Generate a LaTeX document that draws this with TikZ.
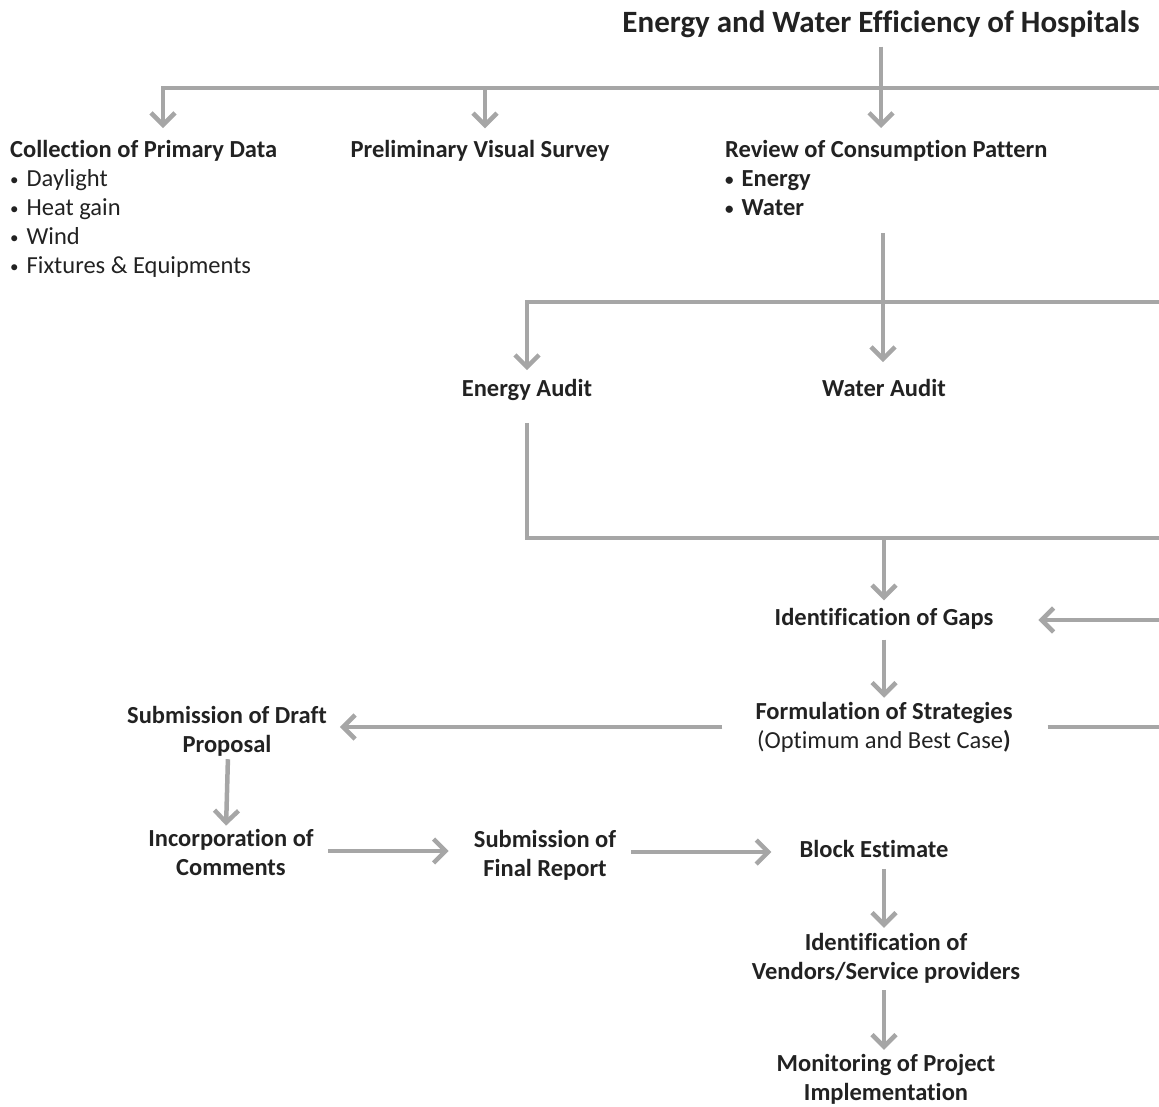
\documentclass[tikz,border=0pt]{standalone}
\usepackage{fontspec}
\setmainfont{Carlito}[Ligatures=NoCommon]
\usetikzlibrary{arrows.meta}
\definecolor{ln}{HTML}{A6A6A6}
\definecolor{tx}{HTML}{222222}
\newcommand{\mybul}{\raisebox{1.2pt}{\fontsize{17}{17}\selectfont•}\hspace{8pt}}
\begin{document}
\begin{tikzpicture}[x=1pt,y=-1pt,
  every node/.style={inner sep=0pt, text=tx, font=\fontsize{24.5}{29}\selectfont},
  lbl/.style={font=\fontsize{24.5}{29}\selectfont\bfseries, align=center},
  conn/.style={draw=ln, line width=4.5pt},
  arr/.style={conn, -{Straight Barb[length=12pt,width=24pt,line width=4.5pt]}}
]
\useasboundingbox (0,0) rectangle (1159,1106);

% nodes
\node[font=\fontsize{31}{34}\selectfont\bfseries] (title) at (881,24) {Energy and Water Efficiency of Hospitals};
\node[anchor=north west, align=left] (collect) at (10,140)
  {\textbf{Collection of Primary Data}\\\mybul Daylight\\\mybul Heat gain\\\mybul Wind\\\mybul Fixtures \& Equipments};
\node[lbl] (survey) at (480,151) {Preliminary Visual Survey};
\node[anchor=north west, align=left, font=\fontsize{24.5}{29}\selectfont\bfseries] (review) at (725,140)
  {Review of Consumption Pattern\\\mybul Energy\\\mybul Water};
\node[lbl] (energy) at (527,390) {Energy Audit};
\node[lbl] (water) at (884,388) {Water Audit};
\node[lbl] (gaps) at (884,619) {Identification of Gaps};
\node[lbl] (form) at (884,727) {Formulation of Strategies\\\mdseries(Optimum and Best Case\textbf{)}};
\node[lbl] (draft) at (227,731) {Submission of Draft\\Proposal};
\node[lbl] (incorp) at (231,852) {Incorporation of\\Comments};
\node[lbl] (final) at (545,855) {Submission of\\Final Report};
\node[lbl] (block) at (874,849) {Block Estimate};
\node[lbl] (vendors) at (886,958) {Identification of\\Vendors/Service providers};
\node[lbl] (monitor) at (886,1079) {Monitoring of Project\\Implementation};

% junction coordinates
\coordinate (j1) at (881,88);
\coordinate (j2) at (883,302);
\coordinate (j3) at (884,538);
\coordinate (eR) at (1170,88);
\coordinate (e2R) at (1170,302);
\coordinate (e3R) at (1170,538);
\coordinate (gR) at (1170,620);
\coordinate (fR) at (1170,727);

% top level
\draw[arr, shorten <=9pt] (title.south -| j1) -- ([yshift=12pt]review.north -| j1);
\draw[conn] (eR) -- (j1);
\draw[arr, line join=miter] (j1) -| ([yshift=12pt]collect.north -| 163,0);
\draw[arr] (485,88) -- ([yshift=12pt]survey.north -| 485,0);

% second level
\draw[conn] ([yshift=-17pt]review.south -| j2) -- (j2);
\draw[conn] (e2R) -- (j2);
\draw[arr, line join=miter] (j2) -| ([yshift=9pt]energy.north);
\draw[arr] (j2) -- ([yshift=17pt]water.north -| j2);

% audits to gaps
\draw[conn, line join=miter] ([yshift=-22pt]energy.south) |- (e3R);
\draw[arr] (j3) -- ([yshift=8pt]gaps.north);
\draw[arr] (gR) -- ([xshift=45pt]gaps.east |- gR);

% down the chain
\draw[arr, shorten <=10pt, shorten >=4pt] (gaps.south) -- (form.north);
\draw[conn] ([xshift=35pt]form.east |- fR) -- (fR);
\draw[arr] ([xshift=-33pt]form.west |- 0,727) -- ([xshift=13pt]draft.east |- 0,727);
\draw[arr, shorten <=3pt, shorten >=3pt] ([xshift=1pt]draft.south) -- ([xshift=-1pt]draft.south |- incorp.north);
\draw[arr] ([xshift=14pt]incorp.east |- 0,851) -- ([xshift=-25pt]final.west |- 0,851);
\draw[arr] ([xshift=15pt]final.east |- 0,852) -- ([xshift=-28pt]block.west |- 0,852);
\draw[arr, shorten <=11pt, shorten >=5pt] (block.south -| 884,0) -- (vendors.north -| 884,0);
\draw[arr, shorten <=7pt, shorten >=4pt] (vendors.south -| 884,0) -- (monitor.north -| 884,0);
\end{tikzpicture}
\end{document}
